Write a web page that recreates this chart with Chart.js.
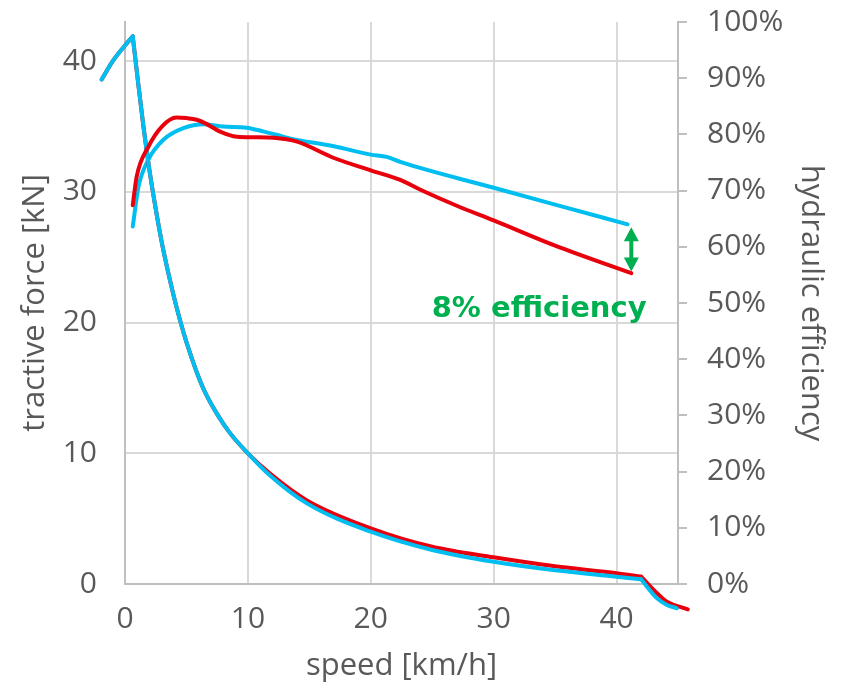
<!DOCTYPE html>
<html>
<head>
<meta charset="utf-8">
<script src="https://cdn.jsdelivr.net/npm/chart.js@4"></script>
<style>
  body { margin: 0; background: #fff; }
</style>
</head>
<body>
<canvas id="grafico" width="845" height="685"></canvas>
<script>
// tick labels
const speedTicks = [0, 10, 20, 30, 40];
const forceTicks = [0, 10, 20, 30, 40];
const effTicks = [0, 10, 20, 30, 40, 50, 60, 70, 80, 90, 100];

// tractive force [kN] over speed [km/h]
const speedForceBlue = [-1.9, -1.0, 0, 0.63, 1.0, 1.5, 2.0, 2.5, 3.0, 3.5, 4.0, 4.5, 5.0, 5.8, 6.5, 7.5, 8.5, 10, 11.8, 14.8, 20, 25, 30, 35, 40, 42, 43.3, 44.1, 44.9];
const forceBlue      = [38.6, 40.0, 41.2, 41.9, 38.9, 35.0, 31.6, 28.7, 26.1, 23.9, 21.9, 20.1, 18.5, 16.3, 14.7, 13.0, 11.6, 10.0, 8.3, 6.17, 4.0, 2.6, 1.7, 1.05, 0.56, 0.36, -1.1, -1.6, -1.86];
const speedForceRed  = [-1.9, -1.0, 0, 0.63, 1.0, 1.5, 2.0, 2.5, 3.0, 3.5, 4.0, 4.5, 5.0, 5.8, 6.5, 7.5, 8.5, 10, 11.8, 14.8, 20, 25, 30, 35, 40, 42, 43.3, 44.1, 45.8];
const forceRed       = [38.6, 40.0, 41.2, 41.9, 38.9, 35.0, 31.6, 28.7, 26.1, 23.9, 21.9, 20.1, 18.5, 16.3, 14.7, 13.0, 11.6, 10.0, 8.45, 6.4, 4.26, 2.85, 2.04, 1.35, 0.82, 0.56, -0.71, -1.35, -1.94];
const forceCorners   = [0.63, 42];

// hydraulic efficiency [%] over speed [km/h]
const speedEffBlue = [0.63, 1.1, 1.9, 3.1, 4.75, 6.4, 8.0, 9.9, 11.3, 12.4, 13.4, 17, 20, 21.3, 22.4, 30, 35, 40.9];
const effBlue      = [63.6, 70.7, 75.5, 79.0, 81.1, 81.8, 81.4, 81.2, 80.5, 79.9, 79.3, 77.9, 76.4, 76.0, 75.1, 70.5, 67.5, 64.0];
const speedEffRed  = [0.63, 0.95, 1.9, 3.0, 4.2, 5.0, 5.84, 6.5, 7.74, 9.1, 10.5, 12.1, 14.0, 17, 20, 22.4, 24, 27, 30, 35, 41.2];
const effRed       = [67.4, 72.5, 77.8, 81.4, 83.0, 82.9, 82.6, 82.0, 80.5, 79.6, 79.5, 79.4, 78.7, 75.8, 73.6, 71.9, 70.2, 67.3, 64.7, 60.2, 55.3];

// annotation
const noteText = "8% efficiency";
const noteSpeed = 33.7;
const notePct = 47.5;
const arrowSpeed = 41.2;
const arrowFrom = 63.5;
const arrowTo = 55.6;

const AZUL = "#00BEF0";
const VERMELHO = "#E8000D";
const VERDE = "#00B050";
const CINZA = "#595959";
const FONTE = "'Open Sans', sans-serif";

// split a curve into pieces at its sharp corners
function pedacos(xs, ys, cantos) {
  const out = [];
  let atual = [];
  xs.forEach((x, i) => {
    atual.push({ x, y: ys[i] });
    if (cantos.includes(x) && atual.length > 1) {
      out.push(atual);
      atual = [{ x, y: ys[i] }];
    }
  });
  if (atual.length > 1) out.push(atual);
  return out;
}

function linha(data, cor, eixo, ordem) {
  return {
    data,
    borderColor: cor,
    borderWidth: 4,
    pointRadius: 0,
    cubicInterpolationMode: "monotone",
    borderCapStyle: "round",
    borderJoinStyle: "round",
    yAxisID: eixo,
    clip: false,
    order: ordem
  };
}

const datasets = [
  linha(speedEffBlue.map((x, i) => ({ x, y: effBlue[i] })), AZUL, "yE", 4),
  ...pedacos(speedForceRed, forceRed, forceCorners).map(d => linha(d, VERMELHO, "yF", 3)),
  ...pedacos(speedForceBlue, forceBlue, forceCorners).map(d => linha(d, AZUL, "yF", 2)),
  linha(speedEffRed.map((x, i) => ({ x, y: effRed[i] })), VERMELHO, "yE", 1)
];

// arrow + "8% efficiency"
const anotacao = {
  id: "anotacao",
  afterDatasetsDraw(chart) {
    const { ctx, scales } = chart;
    const x = scales.x.getPixelForValue(arrowSpeed);
    const y1 = scales.yE.getPixelForValue(arrowFrom);
    const y2 = scales.yE.getPixelForValue(arrowTo);
    const ponta = 14, meia = 7.5;
    ctx.save();
    ctx.fillStyle = VERDE;
    ctx.strokeStyle = VERDE;
    ctx.lineWidth = 4;
    ctx.beginPath();
    ctx.moveTo(x, y1 + ponta - 1);
    ctx.lineTo(x, y2 - ponta + 1);
    ctx.stroke();
    ctx.beginPath();
    ctx.moveTo(x, y1);
    ctx.lineTo(x - meia, y1 + ponta);
    ctx.lineTo(x + meia, y1 + ponta);
    ctx.closePath();
    ctx.fill();
    ctx.beginPath();
    ctx.moveTo(x, y2);
    ctx.lineTo(x - meia, y2 - ponta);
    ctx.lineTo(x + meia, y2 - ponta);
    ctx.closePath();
    ctx.fill();

    ctx.font = "bold 29px 'DejaVu Sans', sans-serif";
    ctx.textAlign = "center";
    ctx.textBaseline = "alphabetic";
    ctx.fillText(noteText, scales.x.getPixelForValue(noteSpeed), scales.yE.getPixelForValue(notePct));
    ctx.restore();
  }
};

const fonteTick = { family: FONTE, size: 30 };
const fonteTitulo = { family: FONTE, size: 31 };

// fixed box sizes so the plot area sits where it does in the picture
function larguraFixa(w) {
  return s => { s.width = w; s.paddingTop = 0; s.paddingBottom = 0; };
}

new Chart(document.getElementById("grafico"), {
  type: "line",
  data: { datasets },
  plugins: [anotacao],
  options: {
    responsive: false,
    animation: false,
    layout: { padding: { top: 22, left: 0, right: 0, bottom: 0 } },
    plugins: {
      legend: { display: false },
      tooltip: { enabled: false }
    },
    scales: {
      x: {
        type: "linear",
        bounds: "data",
        // range set here (not with min/max) so the points outside 0..45 are still drawn
        afterDataLimits: s => { s.min = 0; s.max = 45; },
        afterBuildTicks: s => { s.ticks = speedTicks.map(v => ({ value: v })); },
        afterFit: s => { s.height = 101; },
        grid: { color: "#d9d9d9", lineWidth: 2, drawTicks: false },
        border: { color: "#bfbfbf", width: 2 },
        ticks: { font: fonteTick, color: CINZA, padding: 17, maxRotation: 0 },
        title: { display: true, text: "speed [km/h]", font: fonteTitulo, color: CINZA, padding: { top: 0, bottom: 0 } }
      },
      yF: {
        position: "left",
        min: 0,
        max: 43,
        afterBuildTicks: s => { s.ticks = forceTicks.map(v => ({ value: v })); },
        afterFit: larguraFixa(125),
        grid: { color: "#d9d9d9", lineWidth: 2, drawTicks: false },
        border: { color: "#bfbfbf", width: 2 },
        ticks: { font: fonteTick, color: CINZA, padding: 28 },
        title: { display: true, text: "tractive force [kN]", font: fonteTitulo, color: CINZA, padding: { top: 17, bottom: 0 } }
      },
      yE: {
        position: "right",
        min: 0,
        max: 100,
        afterBuildTicks: s => { s.ticks = effTicks.map(v => ({ value: v })); },
        afterFit: larguraFixa(167),
        grid: { drawOnChartArea: false, color: "#bfbfbf", lineWidth: 2, tickLength: 9 },
        border: { color: "#bfbfbf", width: 2 },
        ticks: { font: fonteTick, color: CINZA, padding: 20, callback: v => v + "%" },
        title: { display: true, text: "hydraulic efficiency", font: fonteTitulo, color: CINZA, padding: { top: 16, bottom: 0 } }
      }
    }
  }
});
</script>
</body>
</html>
